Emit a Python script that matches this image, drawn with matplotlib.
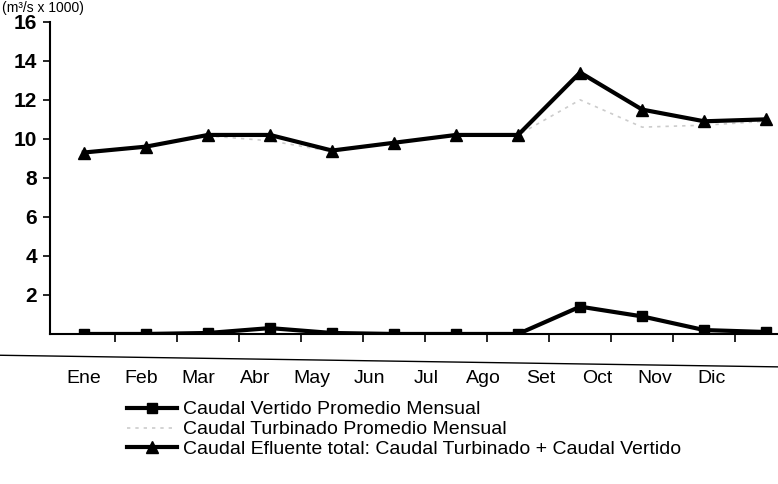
"""Caudal mensual: vertido, turbinado y efluente total (recreated scan)."""

import matplotlib
matplotlib.use("Agg")
import matplotlib.pyplot as plt
from matplotlib.lines import Line2D

plt.rcParams["font.family"] = ["Liberation Sans Narrow", "Liberation Sans", "DejaVu Sans"]

months = ["Ene", "Feb", "Mar", "Abr", "May", "Jun", "Jul", "Ago", "Set", "Oct", "Nov", "Dic"]
vertido = [0.0, 0.0, 0.05, 0.3, 0.05, 0.0, 0.0, 0.0, 1.4, 0.9, 0.2, 0.1]
turbinado = [9.3, 9.6, 10.15, 9.9, 9.35, 9.8, 10.2, 10.2, 12.0, 10.6, 10.7, 10.9]
efluente = [9.3, 9.6, 10.2, 10.2, 9.4, 9.8, 10.2, 10.2, 13.4, 11.5, 10.9, 11.0]

label_vertido = "Caudal Vertido Promedio Mensual"
label_turbinado = "Caudal Turbinado Promedio Mensual"
label_efluente = "Caudal Efluente total: Caudal Turbinado + Caudal Vertido"
units = "(m³/s x 1000)"

# month labels in the scan sit a bit tighter than the data points
LABEL_STRETCH = 0.92

fig = plt.figure(figsize=(7.78, 4.84), dpi=100)
ax = fig.add_axes([0.064, 0.31, 0.936, 0.645])

x = list(range(len(months)))
ax.plot(x, turbinado, color="#cccccc", linewidth=1.2, linestyle=(0, (2, 3)), zorder=2)
ax.plot(x, efluente, color="black", linewidth=3, marker="^", markersize=9, zorder=3)
ax.plot(x, vertido, color="black", linewidth=3, marker="s", markersize=7, zorder=3)

ax.set_xlim(-0.55, 11.19)
ax.set_ylim(0, 16)
ax.set_yticks([2, 4, 6, 8, 10, 12, 14, 16])
ax.tick_params(axis="y", direction="out", length=5, width=1.2, labelsize=15, pad=4)
for lbl in ax.get_yticklabels():
    lbl.set_fontweight("bold")

ax.set_xticks([i * LABEL_STRETCH for i in x])
ax.set_xticklabels(months)
ax.set_xticks([i + 0.5 for i in x[:-1]], minor=True)
ax.tick_params(axis="x", which="major", length=0, labelsize=14, pad=26)
ax.tick_params(axis="x", which="minor", direction="out", length=6, width=1.2)

for side in ("top", "right"):
    ax.spines[side].set_visible(False)
ax.spines["left"].set_linewidth(1.5)
ax.spines["bottom"].set_linewidth(1.5)

# second horizontal rule under the axis, as in the scan
fig.add_artist(Line2D([0.0, 1.0], [0.266, 0.242], color="black", linewidth=1.0,
                      transform=fig.transFigure))

# units label in the top-left corner
fig.text(0.003, 0.998, units, ha="left", va="top", fontsize=10)

handles = [
    Line2D([], [], color="black", linewidth=3, marker="s", markersize=7),
    Line2D([], [], color="#cccccc", linewidth=1.2, linestyle=(0, (2, 3))),
    Line2D([], [], color="black", linewidth=3, marker="^", markersize=9),
]
fig.legend(handles, [label_vertido, label_turbinado, label_efluente],
           loc="upper left", bbox_to_anchor=(0.163, 0.172), frameon=False,
           fontsize=14, handlelength=2.6, handletextpad=0.3, labelspacing=0.12,
           borderaxespad=0, borderpad=0)

fig.savefig("out.png", dpi=100)
